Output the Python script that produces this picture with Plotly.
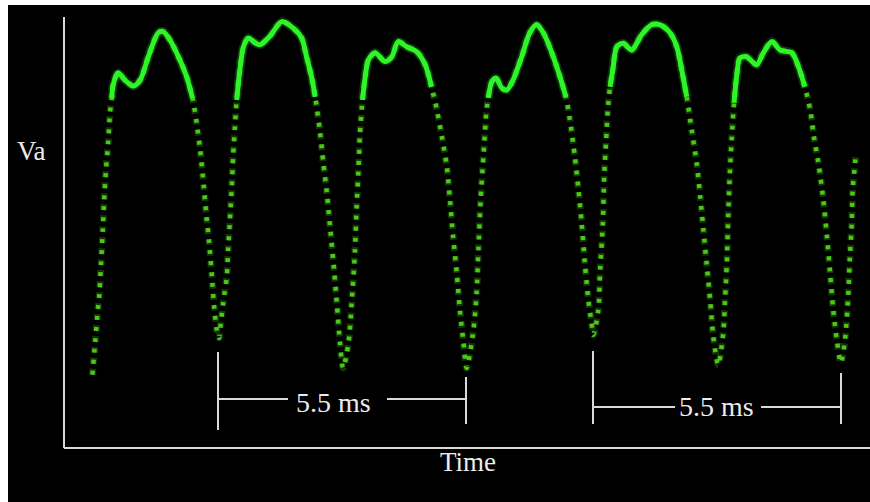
import plotly.graph_objects as go

# ---- data (time in ms, Va in arbitrary units) ----
time_ms = [
    # cycle 1
    0.63, 0.69, 0.75, 0.78, 0.82, 0.86, 0.89, 0.93, 0.98, 1.02, 1.06, 1.09,
    1.20, 1.35, 1.54, 1.69, 1.87, 2.09, 2.20, 2.35, 2.57, 2.72, 2.85,
    2.94, 3.02, 3.10, 3.16, 3.22, 3.28, 3.33, 3.39, 3.44,
    # cycle 2
    3.46, 3.53, 3.61, 3.64, 3.68, 3.72, 3.75, 3.79, 3.83, 3.90, 3.98,
    4.09, 4.24, 4.35, 4.57, 4.83, 5.09, 5.27, 5.38, 5.49, 5.57,
    5.68, 5.75, 5.83, 5.90, 5.97, 6.05, 6.12, 6.19,
    # cycle 3
    6.31, 6.38, 6.45, 6.49, 6.53, 6.56, 6.62, 6.68, 6.75, 6.90, 7.12, 7.27,
    7.41, 7.60, 7.82, 8.01, 8.15, 8.27, 8.38, 8.49, 8.56, 8.63, 8.71,
    8.78, 8.86, 8.93,
    # cycle 4
    9.08, 9.15, 9.19, 9.24, 9.30, 9.34, 9.37, 9.41, 9.49, 9.58, 9.71, 9.82,
    9.96, 10.15, 10.33, 10.48, 10.63, 10.82, 11.00, 11.13, 11.22, 11.33,
    11.41, 11.48, 11.55, 11.63, 11.70, 11.74,
    # cycle 5
    11.85, 11.89, 11.95, 11.98, 12.02, 12.06, 12.11, 12.17, 12.26, 12.40,
    12.59, 12.81, 13.03, 13.22, 13.44, 13.59, 13.70, 13.81, 13.92, 14.03,
    14.11, 14.18, 14.25, 14.33, 14.40, 14.51,
    # cycle 6
    14.62, 14.66, 14.70, 14.73, 14.77, 14.81, 14.86, 14.93, 14.99, 15.14,
    15.36, 15.51, 15.70, 15.88, 16.14, 16.29, 16.43, 16.55, 16.63, 16.73,
    16.84, 16.92, 16.99, 17.06, 17.14, 17.23,
    # cycle 7 (start)
    17.32, 17.39, 17.43, 17.47, 17.49, 17.53, 17.56,
]
va = [
    # cycle 1
    1.83, 2.63, 3.45, 3.78, 4.58, 5.45, 6.20, 6.95, 7.63, 8.38, 8.75, 9.08,
    9.38, 9.20, 9.05, 9.20, 9.78, 10.38, 10.41, 10.20, 9.70, 9.28, 8.75,
    8.13, 7.45, 6.53, 5.78, 5.13, 4.28, 3.53, 2.95, 2.75,
    # cycle 2
    2.95, 3.63, 4.28, 4.95, 5.70, 6.53, 7.28, 8.03, 8.70, 9.45, 10.03,
    10.25, 10.13, 10.08, 10.30, 10.66, 10.49, 10.25, 9.78, 9.28, 8.78,
    7.88, 7.13, 6.38, 5.53, 4.70, 3.63, 2.63, 2.00,
    # cycle 3
    2.63, 3.63, 4.88, 6.03, 6.95, 7.78, 8.70, 9.28, 9.70, 9.88, 9.66, 9.78,
    10.16, 10.03, 9.91, 9.58, 9.03, 8.45, 7.78, 7.03, 6.20, 5.28, 4.38,
    3.45, 2.63, 2.00,
    # cycle 4
    2.95, 3.88, 4.95, 6.20, 7.28, 7.95, 8.45, 8.75, 9.16, 9.25, 9.00, 8.95,
    9.20, 9.78, 10.38, 10.58, 10.38, 9.88, 9.28, 8.78, 8.20, 7.28,
    6.45, 5.63, 4.63, 3.70, 3.13, 2.83,
    # cycle 5
    3.45, 4.45, 5.63, 6.78, 7.63, 8.45, 9.03, 9.45, 10.03, 10.12,
    9.95, 10.33, 10.58, 10.58, 10.38, 10.03, 9.45, 8.78, 7.95, 7.13,
    6.28, 5.45, 4.63, 3.70, 2.78, 2.08,
    # cycle 6
    2.88, 3.70, 4.63, 5.78, 6.95, 7.78, 8.63, 9.41, 9.75, 9.78,
    9.58, 9.88, 10.16, 9.95, 9.88, 9.53, 9.03, 8.45, 7.78, 7.13,
    6.20, 5.28, 4.38, 3.45, 2.70, 2.13,
    # cycle 7 (start)
    2.70, 3.78, 4.78, 5.63, 6.45, 6.95, 7.33,
]

interval_starts_ms = [3.415, 11.732]
interval_len_ms = 5.5
interval_label = "5.5 ms"
x_title = "Time"
y_title = "Va"

# ---- styling ----
CREST_LEVEL = 8.6
dot_color = "rgb(75,200,25)"
crest_color = "rgb(45,245,40)"
axis_color = "#d9d9d9"
text_color = "#ececec"
serif = "Liberation Serif, Times New Roman, serif"

crest = [v if v >= CREST_LEVEL else None for v in va]

fig = go.Figure()
# soft halo of the sampled trace
fig.add_trace(go.Scatter(
    x=time_ms, y=va, mode="lines", opacity=0.25,
    line=dict(color=dot_color, width=7, dash="6px,5px", shape="spline", smoothing=0.8),
    hoverinfo="skip"))
# sampled (dotted) trace
fig.add_trace(go.Scatter(
    x=time_ms, y=va, mode="lines",
    line=dict(color=dot_color, width=4.5, dash="4px,7px", shape="spline", smoothing=0.8),
    hoverinfo="skip"))
# glow on the bright crests
fig.add_trace(go.Scatter(
    x=time_ms, y=crest, mode="lines", opacity=0.18,
    line=dict(color=crest_color, width=9, shape="spline", smoothing=0.8),
    hoverinfo="skip"))
fig.add_trace(go.Scatter(
    x=time_ms, y=crest, mode="lines",
    line=dict(color=crest_color, width=5, shape="spline", smoothing=0.8),
    hoverinfo="skip"))

X_MIN, X_MAX = -1.242, 17.875
Y_MIN, Y_MAX = -1.35, 11.075
Y_AXIS_TOP = 10.775

shapes = [
    dict(type="line", xref="x", yref="y", x0=0, x1=0, y0=0, y1=Y_AXIS_TOP,
         line=dict(color=axis_color, width=2)),
    dict(type="line", xref="x", yref="y", x0=0, x1=X_MAX, y0=0, y1=0,
         line=dict(color=axis_color, width=2)),
]

# interval markers: left tick span, bar level, gap round the text, right tick span, label centre
marker_geom = [
    dict(lt=(0.45, 2.40), bar=1.225, gap=(4.968, 7.163), rt=(0.60, 1.775), lab=(5.977, 1.15)),
    dict(lt=(0.60, 2.425), bar=1.025, gap=(13.551, 15.458), rt=(0.60, 1.875), lab=(14.471, 1.05)),
]
annotations = []
for start, g in zip(interval_starts_ms, marker_geom):
    end = start + interval_len_ms
    ln = dict(color=axis_color, width=2)
    shapes += [
        dict(type="line", xref="x", yref="y", x0=start, x1=start, y0=g["lt"][0], y1=g["lt"][1], line=ln),
        dict(type="line", xref="x", yref="y", x0=end, x1=end, y0=g["rt"][0], y1=g["rt"][1], line=ln),
        dict(type="line", xref="x", yref="y", x0=start, x1=g["gap"][0], y0=g["bar"], y1=g["bar"], line=ln),
        dict(type="line", xref="x", yref="y", x0=g["gap"][1], x1=end, y0=g["bar"], y1=g["bar"], line=ln),
    ]
    annotations.append(dict(x=g["lab"][0], y=g["lab"][1], xref="x", yref="y", text=interval_label,
                            showarrow=False, xanchor="center", yanchor="middle",
                            font=dict(family=serif, size=28, color=text_color)))

annotations.append(dict(x=8.96, y=-0.35, xref="x", yref="y", text=x_title, showarrow=False,
                        xanchor="center", yanchor="middle",
                        font=dict(family=serif, size=27, color=text_color)))
annotations.append(dict(x=-0.73, y=7.43, xref="x", yref="y", text=y_title, showarrow=False,
                        xanchor="center", yanchor="middle",
                        font=dict(family=serif, size=27, color=text_color)))

fig.update_layout(
    width=870, height=502,
    margin=dict(l=8, r=0, t=5, b=0, pad=0),
    paper_bgcolor="white", plot_bgcolor="black",
    showlegend=False,
    xaxis=dict(range=[X_MIN, X_MAX], visible=False, fixedrange=True),
    yaxis=dict(range=[Y_MIN, Y_MAX], visible=False, fixedrange=True),
    shapes=shapes, annotations=annotations,
)

fig.write_html("out.html", config={"displayModeBar": False})
